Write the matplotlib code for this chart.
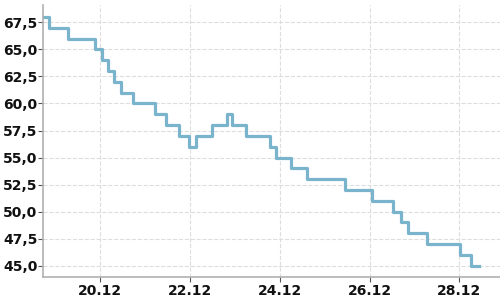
import matplotlib
matplotlib.use('Agg')
import matplotlib.pyplot as plt
import matplotlib.dates as mdates
from matplotlib.ticker import MultipleLocator, FuncFormatter
import pandas as pd

# step points (value holds until the next timestamp)
times = ['2023-12-18 17:31', '2023-12-18 20:18', '2023-12-19 06:59', '2023-12-19 20:54',
         '2023-12-20 00:45', '2023-12-20 04:08', '2023-12-20 07:29', '2023-12-20 10:58',
         '2023-12-20 17:22', '2023-12-21 05:21', '2023-12-21 11:08', '2023-12-21 18:06',
         '2023-12-21 23:36', '2023-12-22 03:04', '2023-12-22 11:44', '2023-12-22 19:42',
         '2023-12-22 22:11', '2023-12-23 06:04', '2023-12-23 18:46', '2023-12-23 21:58',
         '2023-12-24 06:00', '2023-12-24 14:23', '2023-12-25 10:52', '2023-12-26 01:19',
         '2023-12-26 12:33', '2023-12-26 16:59', '2023-12-26 20:24', '2023-12-27 06:50',
         '2023-12-28 00:10', '2023-12-28 06:00', '2023-12-28 10:48']
values = [68, 67, 66, 65, 64, 63, 62, 61, 60, 59, 58, 57, 56, 57, 58, 59,
          58, 57, 56, 55, 54, 53, 52, 51, 50, 49, 48, 47, 46, 45, 45]
tick_days = ['2023-12-20', '2023-12-22', '2023-12-24', '2023-12-26', '2023-12-28']

t = pd.to_datetime(times)

fig = plt.figure(figsize=(5, 3), dpi=100)
ax = fig.add_axes([0.0866, 0.0767, 0.9134, 0.9063])
ax.step(t, values, where='post', color='#7ab4cc', lw=2.3)

ax.set_xlim(pd.Timestamp('2023-12-18 17:31'), pd.Timestamp('2023-12-28 21:46'))
ax.set_ylim(43.95, 69.1)
ax.set_xticks(pd.to_datetime(tick_days))
ax.xaxis.set_major_formatter(mdates.DateFormatter('%d.%m'))
ax.yaxis.set_major_locator(MultipleLocator(2.5))
ax.yaxis.set_major_formatter(FuncFormatter(lambda v, p: f'{v:.1f}'.replace('.', ',')))

ax.grid(True, ls='--', color='#dddddd', lw=0.8)
ax.set_axisbelow(True)
for s in ['top', 'right']:
    ax.spines[s].set_visible(False)
for s in ['left', 'bottom']:
    ax.spines[s].set_color('#b0b0b0')
    ax.spines[s].set_linewidth(1.2)
ax.tick_params(colors='#555555', labelcolor='#111111', labelsize=10, length=3.3)
ax.tick_params(axis='x', pad=2)
ax.tick_params(axis='y', pad=1)
for lbl in ax.get_xticklabels() + ax.get_yticklabels():
    lbl.set_fontweight('bold')

fig.savefig('out.png', dpi=100)
